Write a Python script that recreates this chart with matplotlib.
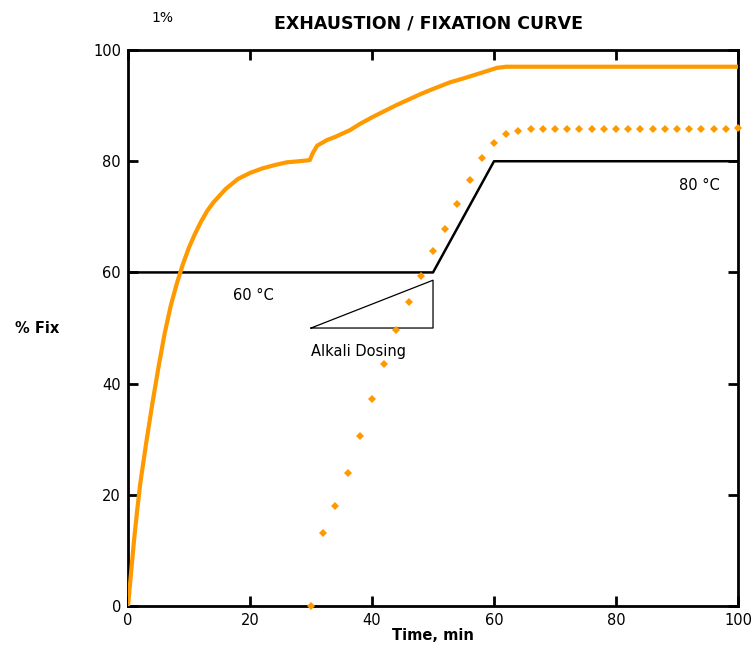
"""
Exhaustion / fixation curve (1%)
"""
import matplotlib.pyplot as plt

# exhaustion curve (solid)
exh_time = [0, 0.5, 1, 1.5, 2, 3, 4, 5, 6, 7, 8, 9, 10, 11, 12, 13, 14,
            16, 18, 20, 22, 24, 26, 28, 29.8, 30.3, 31, 32.6, 34, 36.4, 38, 40, 42,
            44, 46, 48, 50, 52.8, 55, 58.2, 60.5, 62, 70, 80, 90, 100]
exh_fix = [0, 6, 12, 17.2, 22, 29.5, 36.5, 43, 49, 54, 58, 61.5, 64.5, 67, 69.2, 71.1,
           72.6, 75, 76.8, 77.9, 78.7, 79.3, 79.8, 80.0, 80.2, 81.5, 82.8, 83.8, 84.4,
           85.6, 86.7, 87.9, 89.0, 90.1, 91.1, 92.1, 93.0, 94.2, 94.9, 96.0, 96.8, 97.0,
           97.0, 97.0, 97.0, 97.0]

# fixation curve (dotted)
fix_time = list(range(30, 101, 2))
fix_fix = [0, 13.2, 17.9, 24.0, 30.6, 37.2, 43.5, 49.6, 54.7, 59.4, 63.8, 67.9, 72.3,
           76.7, 80.5, 83.3, 84.9, 85.5, 85.8, 85.8, 85.8, 85.8, 85.8, 85.8, 85.8, 85.8,
           85.8, 85.8, 85.8, 85.8, 85.8, 85.8, 85.8, 85.8, 85.8, 86.0]

# temperature profile
temp_time = [0, 50, 60, 100]
temp_level = [60, 60, 80, 80]

# alkali dosing wedge
dosing_time = [30, 50, 50, 30]
dosing_level = [50, 50, 58.6, 50]

orange = '#ff9900'

fig = plt.figure(figsize=(7.54, 6.5), dpi=100)
ax = fig.add_axes([0.1698, 0.0677, 0.8090, 0.8553])

ax.plot(exh_time, exh_fix, color=orange, linewidth=3, solid_capstyle='butt', zorder=3)
ax.plot(fix_time, fix_fix, linestyle='none', marker='D', markersize=3.8,
        color=orange, markeredgewidth=0, zorder=3, clip_on=False)
ax.plot(temp_time, temp_level, color='black', linewidth=1.8, zorder=2)
ax.plot(dosing_time, dosing_level, color='black', linewidth=0.9, zorder=2)

ax.text(20.5, 55.9, '60 °C', ha='center', va='center', fontsize=10.5)
ax.text(93.6, 75.7, '80 °C', ha='center', va='center', fontsize=10.5)
ax.text(30, 45.7, 'Alkali Dosing', ha='left', va='center', fontsize=10.5)

ax.set_xlim(0, 100)
ax.set_ylim(0, 100)
ax.set_xticks([0, 20, 40, 60, 80, 100])
ax.set_yticks([0, 20, 40, 60, 80, 100])
ax.tick_params(direction='in', length=7, width=2, labelsize=10.5, pad=5,
               top=True, right=True)
for s in ax.spines.values():
    s.set_linewidth(2)

ax.set_xlabel('Time, min', fontsize=10.5, fontweight='bold', labelpad=0)
ax.set_ylabel('% Fix', fontsize=10.5, fontweight='bold', rotation=0, labelpad=40,
              va='center')

fig.text(429 / 754, 1 - 24 / 650, 'EXHAUSTION / FIXATION CURVE', ha='center',
         va='center', fontsize=12.5, fontweight='bold')
fig.text(162 / 754, 1 - 18 / 650, '1%', ha='center', va='center', fontsize=10)

plt.savefig('out.png', dpi=100)
